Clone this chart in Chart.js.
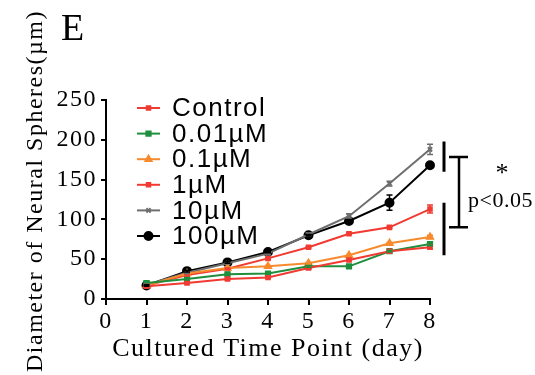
<!DOCTYPE html>
<html><head><meta charset="utf-8">
<script src="https://cdn.jsdelivr.net/npm/chart.js@4.4.1/dist/chart.umd.min.js"></script>
<style>html,body{margin:0;padding:0;background:#fff;overflow:hidden}canvas{display:block}</style>
</head><body>
<canvas id="c" width="535" height="375"></canvas>
<script>
// ---- data ----
const days = [1, 2, 3, 4, 5, 6, 7, 8];
const xTicks = [0, 1, 2, 3, 4, 5, 6, 7, 8];
const yTicks = [0, 50, 100, 150, 200, 250];
const seriesNames = ['Control', '0.01\u00b5M', '0.1\u00b5M', '1\u00b5M', '10\u00b5M', '100\u00b5M'];
const control = [16, 20, 25, 27, 39, 49, 60, 65];
const um001   = [20, 25, 31, 32, 41, 41, 60, 69];
const um01    = [17, 32, 39, 41, 45, 55, 70, 78];
const um1     = [17, 30, 38, 51, 65, 82, 90, 113];
const um10    = [18, 33, 45, 57, 81, 104, 145, 188];
const um100   = [17, 35, 46, 59, 80, 98, 121, 168];
const controlErr = [2, 1, 1, 1, 1, 1, 1, 2];
const um001Err   = [2, 1, 1, 1, 1, 1, 1, 2];
const um01Err    = [1, 1, 1, 1, 1, 1, 1, 2];
const um1Err     = [1, 1, 1, 1, 1, 1, 1, 5];
const um10Err    = [1, 1, 1, 1, 2, 3, 3, 6.5];
const um100Err   = [1, 1, 1, 1, 1, 2, 9.5, 2];
const sigHighGroup = [160, 198];
const sigLowGroup = [55, 121];
const sigBracket = [90, 178.5];
const sigStar = '*';
const sigText = 'p<0.05';
const panelLabel = 'E';
const xTitle = 'Cultured Time Point (day)';
const yTitle = 'Diameter of Neural Spheres(\u00b5m)';

// ---- styles ----
const colors = ['#f03a32', '#1f8f3e', '#f78a2c', '#f03a32', '#6e6e6e', '#000000'];
const pStyles = ['rect', 'rect', 'triangle', 'rect', 'crossRot', 'circle'];
const pRadius = [2.5, 3, 3.5, 2.5, 3, 4];
const values = [control, um001, um01, um1, um10, um100];
const errors = [controlErr, um001Err, um01Err, um1Err, um10Err, um100Err];

const serif = '"Liberation Serif", "Times New Roman", serif';
const sans = '"Liberation Sans", Arial, sans-serif';

const datasets = values.map((vals, i) => ({
  label: seriesNames[i],
  data: days.map((d, j) => ({x: d, y: vals[j]})),
  errors: errors[i],
  borderColor: colors[i],
  backgroundColor: colors[i],
  pointBackgroundColor: colors[i],
  pointBorderColor: colors[i],
  pointStyle: pStyles[i],
  pointRadius: pRadius[i],
  borderWidth: 2,
  tension: 0,
  clip: false
}));

const deco = {
  id: 'deco',
  beforeDraw(chart) { chart.ctx.letterSpacing = '1.5px'; },
  afterDatasetsDraw(chart) {
    const ctx = chart.ctx, xs = chart.scales.x, ys = chart.scales.y;
    ctx.save();
    chart.data.datasets.forEach(ds => {
      ctx.strokeStyle = ds.borderColor; ctx.lineWidth = 1.5;
      ds.data.forEach((p, j) => {
        const e = ds.errors[j];
        const x = xs.getPixelForValue(p.x);
        const t = ys.getPixelForValue(p.y + e), b = ys.getPixelForValue(p.y - e);
        ctx.beginPath();
        ctx.moveTo(x, t); ctx.lineTo(x, b);
        ctx.moveTo(x - 3, t); ctx.lineTo(x + 3, t);
        ctx.moveTo(x - 3, b); ctx.lineTo(x + 3, b);
        ctx.stroke();
      });
    });
    ctx.restore();
  },
  afterDraw(chart) {
    const ctx = chart.ctx, ys = chart.scales.y, area = chart.chartArea;
    ctx.save();
    ctx.letterSpacing = '1.5px';
    // legend
    chart.data.datasets.forEach((ds, i) => {
      const y = 108 + i * 25.6;
      ctx.strokeStyle = ds.borderColor; ctx.fillStyle = ds.borderColor; ctx.lineWidth = 2;
      ctx.beginPath(); ctx.moveTo(137, y); ctx.lineTo(160, y); ctx.stroke();
      Chart.helpers.drawPoint(ctx, {pointStyle: ds.pointStyle, radius: ds.pointRadius, rotation: 0, borderWidth: 1}, 148.5, y);
      ctx.fillStyle = '#000';
      ctx.font = '26px ' + sans;
      ctx.textBaseline = 'middle'; ctx.textAlign = 'left';
      ctx.fillText(ds.label, 172, y + 1);
    });
    // y-axis title
    ctx.save();
    ctx.translate(36, 191);
    ctx.rotate(-Math.PI / 2);
    ctx.font = '24px ' + serif;
    ctx.textAlign = 'center'; ctx.textBaseline = 'middle';
    ctx.fillStyle = '#000';
    ctx.fillText(yTitle, 0, 0);
    ctx.restore();
    // panel label
    ctx.fillStyle = '#000';
    ctx.font = '38px ' + serif;
    ctx.textAlign = 'left';
    ctx.textBaseline = 'alphabetic';
    ctx.fillText(panelLabel, 61, 40);
    // significance
    const xr = area.right;
    ctx.strokeStyle = '#000';
    ctx.lineWidth = 3;
    ctx.beginPath();
    ctx.moveTo(xr + 14, ys.getPixelForValue(sigHighGroup[1]));
    ctx.lineTo(xr + 14, ys.getPixelForValue(sigHighGroup[0]));
    ctx.moveTo(xr + 14, ys.getPixelForValue(sigLowGroup[1]));
    ctx.lineTo(xr + 14, ys.getPixelForValue(sigLowGroup[0]));
    ctx.stroke();
    ctx.lineWidth = 2.5;
    const bt = ys.getPixelForValue(sigBracket[1]), bb = ys.getPixelForValue(sigBracket[0]);
    ctx.beginPath();
    ctx.moveTo(xr + 29, bt); ctx.lineTo(xr + 29, bb);
    ctx.moveTo(xr + 19, bt); ctx.lineTo(xr + 38, bt);
    ctx.moveTo(xr + 19, bb); ctx.lineTo(xr + 38, bb);
    ctx.stroke();
    ctx.letterSpacing = '0px';
    ctx.font = '26px ' + serif;
    ctx.textAlign = 'center'; ctx.textBaseline = 'middle';
    ctx.fillText(sigStar, 502, 174);
    ctx.font = '22px ' + serif;
    ctx.textAlign = 'left';
    ctx.letterSpacing = '0.5px';
    ctx.fillText(sigText, 468, 201);
    ctx.restore();
  }
};

new Chart(document.getElementById('c'), {
  type: 'line',
  data: {datasets},
  options: {
    responsive: false,
    devicePixelRatio: 1,
    animation: false,
    layout: {padding: {top: 100, right: 105, left: 0, bottom: 0}},
    plugins: {legend: {display: false}, tooltip: {enabled: false}},
    scales: {
      x: {
        type: 'linear', min: 0, max: 8,
        afterBuildTicks: s => { s.ticks = xTicks.map(v => ({value: v})); },
        afterFit: s => { s.height = 76; },
        ticks: {font: {family: serif, size: 24}, color: '#000', padding: 2, maxRotation: 0, autoSkip: false},
        grid: {drawOnChartArea: false, color: '#000', lineWidth: 2, tickLength: 6},
        border: {color: '#000', width: 2},
        title: {display: true, text: xTitle, color: '#000', font: {family: serif, size: 26}, padding: {top: 0, bottom: 10}}
      },
      y: {
        min: 0, max: 250,
        afterBuildTicks: s => { s.ticks = yTicks.map(v => ({value: v})); },
        afterFit: s => { s.width = 106; },
        ticks: {font: {family: serif, size: 24}, color: '#000', padding: 4},
        grid: {drawOnChartArea: false, color: '#000', lineWidth: 2, tickLength: 5},
        border: {color: '#000', width: 2},
        title: {display: false}
      }
    }
  },
  plugins: [deco]
});
</script>
</body></html>
